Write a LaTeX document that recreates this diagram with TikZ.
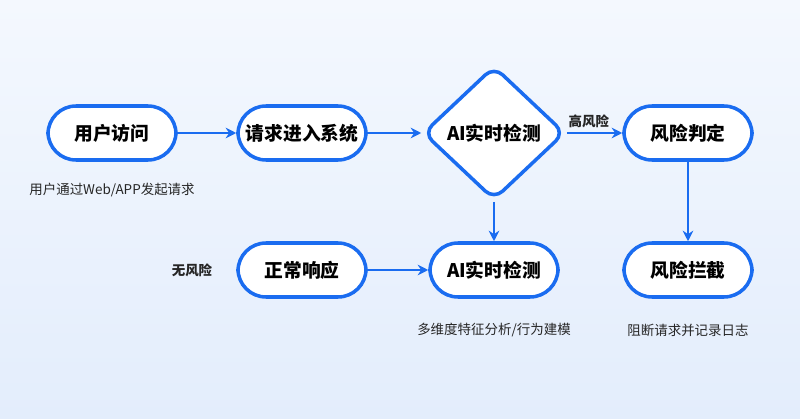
\documentclass[tikz,border=0pt]{standalone}
\usepackage{fontspec}
\setmainfont{Noto Sans CJK SC}
\usetikzlibrary{shapes.geometric,arrows.meta}
\definecolor{flowblue}{HTML}{1A6CF0}
\definecolor{bgtop}{HTML}{F4F8FE}
\definecolor{bgbot}{HTML}{E3EDFC}
\begin{document}
\begin{tikzpicture}[
                        x=0.03cm, y=-0.03cm,
                        >={Stealth[length=9pt,width=9pt]},
                        box/.style={rectangle, rounded corners=28*0.03cm, draw=flowblue, line width=3pt, fill=white,
                                    minimum width=128*0.03cm, minimum height=54*0.03cm, font=\bfseries\fontsize{16}{19}\selectfont},
                        decide/.style={diamond, rounded corners=10pt, draw=flowblue, line width=3pt, fill=white, inner sep=0pt,
                                    minimum width=142*0.03cm, minimum height=134*0.03cm, font=\bfseries\fontsize{16}{19}\selectfont},
                        note/.style={font=\fontsize{11.5}{14}\selectfont, text=black!85},
                        flow/.style={->, draw=flowblue, line width=1.6pt}
                    ]
                    % Background
                    \shade[top color=bgtop, bottom color=bgbot] (0,0) rectangle (800,419);
                    \useasboundingbox (0,0) rectangle (800,419);
                    % Blocks
                    \node [box] (visit) at (112,133) {用户访问};
                    \node [box] (enter) at (302,133) {请求进入系统};
                    \node [decide] (detect) at (494,133) {AI实时检测};
                    \node [box] (judge) at (688,133) {风险判定};
                    \node [box] (normal) at (302,270) {正常响应};
                    \node [box] (model) at (494,270) {AI实时检测};
                    \node [box] (block) at (688,270) {风险拦截};
                    % Notes
                    \node [note] (visitnote) at (112,190) {用户通过Web/APP发起请求};
                    \node [note] (modelnote) at (494,330) {多维度特征分析/行为建模};
                    \node [note] (blocknote) at (688,330) {阻断请求并记录日志};
                    \node [note, font=\bfseries\fontsize{11.5}{14}\selectfont] (norisk) at (192,270) {无风险};
                    % Connections
                    \draw [flow] (visit) -- (enter);
                    \draw [flow] (enter) -- (detect);
                    \draw [flow] (detect) --node[above, note, font=\bfseries\fontsize{11.5}{14}\selectfont, pos=0.4]{高风险} (judge);
                    \draw [flow] (detect) -- (model);
                    \draw [flow] (judge) -- (block);
                    \draw [flow] (normal) -- (model);
                \end{tikzpicture}
\end{document}
